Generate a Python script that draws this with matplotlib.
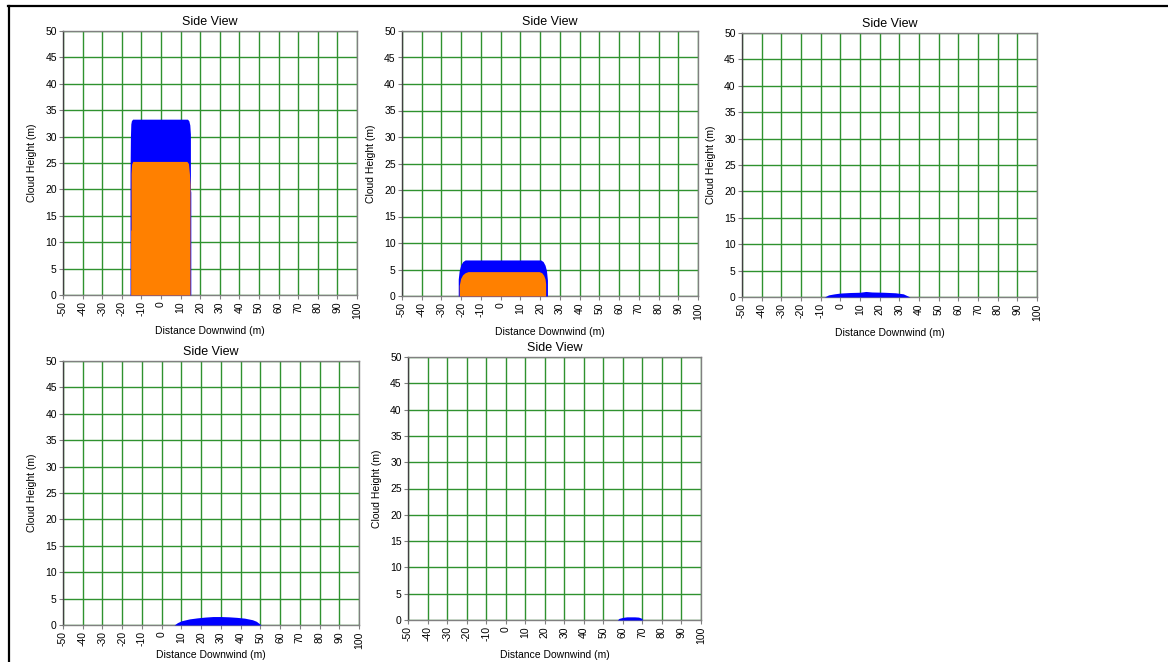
import matplotlib
matplotlib.use("Agg")
import matplotlib.pyplot as plt
from matplotlib.lines import Line2D

plt.rcParams['font.family'] = ['Liberation Sans', 'DejaVu Sans']

# Axis ranges and ticks shared by every side-view panel
x_ticks = list(range(-50, 101, 10))
y_ticks = list(range(0, 51, 5))
title_text = "Side View"
x_label = "Distance Downwind (m)"
y_label = "Cloud Height (m)"

# Cloud profiles: downwind distance (m) and cloud top height (m)
# Time step 1
t1_outer_x = [-15.8, -15.8, -15.6, -15.4, -15.1, -14.5, 13.5, 14.2, 14.7, 15.0, 15.0, 15.2, 15.2]
t1_outer_h = [0.0, 23.0, 30.0, 32.4, 33.0, 33.3, 33.3, 33.0, 32.2, 30.5, 20.0, 19.5, 0.0]
t1_inner_x = [-15.5, -15.5, -15.3, -15.3, -15.0, -14.4, 13.2, 14.0, 14.5, 14.8, 14.8]
t1_inner_h = [0.0, 12.3, 12.3, 23.0, 24.8, 25.3, 25.3, 24.9, 23.0, 21.0, 0.0]

# Time step 2
t2_outer_x = [-21.5, -21.5, -21.0, -20.2, -19.2, -18.0, 20.3, 21.5, 22.5, 23.2, 23.7, 23.7]
t2_outer_h = [0.0, 3.2, 4.8, 5.9, 6.5, 6.8, 6.8, 6.5, 5.8, 4.8, 3.0, 0.0]
t2_inner_x = [-21.0, -21.0, -20.3, -19.3, -18.0, -16.5, 19.5, 20.8, 21.8, 22.5, 22.8, 22.8]
t2_inner_h = [0.0, 2.0, 3.3, 4.0, 4.4, 4.6, 4.6, 4.4, 3.9, 3.2, 2.3, 0.0]

# Time step 3
t3_outer_x = [-8.1, -6.0, -3.0, 0.0, 5.0, 10.0, 13.0, 16.0, 22.0, 28.0, 32.0, 35.4]
t3_outer_h = [0.0, 0.4, 0.6, 0.75, 0.85, 0.9, 1.05, 0.95, 0.9, 0.8, 0.6, 0.0]

# Time step 4
t4_outer_x = [6.3, 8.0, 10.0, 14.0, 18.0, 22.0, 26.0, 30.0, 34.0, 38.0, 42.0, 46.0, 48.0, 50.4]
t4_outer_h = [0.0, 0.45, 0.8, 1.15, 1.35, 1.5, 1.6, 1.6, 1.55, 1.45, 1.3, 1.0, 0.7, 0.0]

# Time step 5
t5_outer_x = [57.2, 58.0, 60.0, 62.0, 66.0, 68.0, 69.5, 70.2]
t5_outer_h = [0.0, 0.3, 0.5, 0.6, 0.6, 0.55, 0.35, 0.0]

OUTER_COLOR = "#0000ff"
INNER_COLOR = "#ff8000"
GRID_COLOR = "#2f922f"

W, H = 1168, 662
fig = plt.figure(figsize=(W / 100, H / 100), dpi=100)
fig.patch.set_facecolor("white")

# Panel boxes in pixels: left, right, top, bottom, x-label gap
boxes = [
    (63, 357, 31, 295, 31),
    (402, 698, 31, 296, 31),
    (742, 1037, 33, 297, 31),
    (63, 359, 361, 625, 25),
    (408, 701, 357, 620, 30),
]

profiles = [
    [(t1_outer_x, t1_outer_h, OUTER_COLOR), (t1_inner_x, t1_inner_h, INNER_COLOR)],
    [(t2_outer_x, t2_outer_h, OUTER_COLOR), (t2_inner_x, t2_inner_h, INNER_COLOR)],
    [(t3_outer_x, t3_outer_h, OUTER_COLOR)],
    [(t4_outer_x, t4_outer_h, OUTER_COLOR)],
    [(t5_outer_x, t5_outer_h, OUTER_COLOR)],
]

for (l, r, t, b, gap), layers in zip(boxes, profiles):
    w, h = r - l, b - t
    ax = fig.add_axes([l / W, (H - b) / H, w / W, h / H])
    ax.set_xlim(-50, 100)
    ax.set_ylim(0, 50)
    ax.set_xticks(x_ticks)
    ax.set_yticks(y_ticks)
    ax.set_xticklabels([str(v) for v in x_ticks], rotation=90, fontsize=7.5)
    ax.set_yticklabels([str(v) for v in y_ticks], fontsize=7.5)
    ax.tick_params(axis="both", direction="out", length=3, width=0.8,
                   color="#808080", pad=1.5, labelcolor="black")
    ax.grid(True, color=GRID_COLOR, linewidth=1.0)
    ax.set_axisbelow(True)
    for name, sp in ax.spines.items():
        sp.set_color("#808080")
        sp.set_linewidth(1.0)
    ax.spines["left"].set_color("#404040")

    for xs, hs, col in layers:
        ax.fill_between(xs, 0, hs, color=col, linewidth=0, zorder=3)

    ax.set_title(title_text, fontsize=9, pad=4)
    ax.set_xlabel(x_label, fontsize=7.5)
    ax.set_ylabel(y_label, fontsize=7.5)
    ax.xaxis.set_label_coords(0.5, -gap / h)
    ax.yaxis.set_label_coords(-26 / w, 0.5)

# Frame lines along the top and left edges
fig.add_artist(Line2D([8 / W, 1.0], [1 - 5.5 / H, 1 - 5.5 / H],
                      color="black", linewidth=1.6, transform=fig.transFigure))
fig.add_artist(Line2D([9 / W, 9 / W], [0.0, 1 - 5.5 / H],
                      color="black", linewidth=1.6, transform=fig.transFigure))

fig.savefig("out.png", dpi=100, facecolor="white")
